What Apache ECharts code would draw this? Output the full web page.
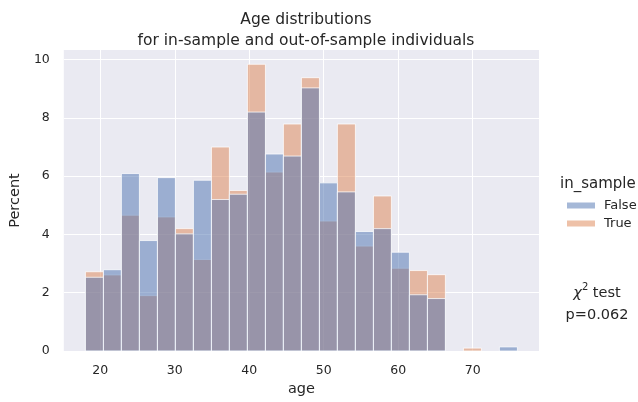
<!DOCTYPE html>
<html>
<head>
<meta charset="utf-8">
<script src="https://cdn.jsdelivr.net/npm/echarts@6/dist/echarts.min.js"></script>
<style>html,body{margin:0;padding:0;background:#fff}#c{width:638px;height:402px}</style>
</head>
<body>
<div id="c"></div>
<script>
// Histogram bin edges (age)
const binEdges = [18, 20.42, 22.83, 25.25, 27.67, 30.08, 32.5, 34.92, 37.33, 39.75, 42.17, 44.58, 47, 49.42, 51.83, 54.25, 56.67, 59.08, 61.5, 63.92, 66.33, 68.75, 71.17, 73.58, 76];
// Percent per bin, in_sample = False
const falseVals = [2.53, 2.79, 6.09, 3.79, 5.95, 4.02, 5.86, 5.20, 5.38, 8.20, 6.76, 6.69, 9.03, 5.77, 5.46, 4.10, 4.20, 3.39, 1.93, 1.80, 0, 0, 0, 0.14];
// Percent per bin, in_sample = True
const trueVals = [2.72, 2.61, 4.66, 1.90, 4.60, 4.20, 3.14, 7.00, 5.51, 9.84, 6.14, 7.79, 9.38, 4.46, 7.79, 3.60, 5.32, 2.84, 2.76, 2.62, 0, 0.10, 0, 0];
const xTicks = [20, 30, 40, 50, 60, 70];
const yTicks = [0, 2, 4, 6, 8, 10];
const seriesNames = ['False', 'True'];

function toData(vals) {
  return vals.map((v, i) => [binEdges[i], binEdges[i + 1], v]);
}
function renderBar(color) {
  return function (params, api) {
    const h = api.value(2);
    if (!(h > 0)) return null;
    const p0 = api.coord([api.value(0), h]);
    const p1 = api.coord([api.value(1), 0]);
    return {
      type: 'rect',
      shape: { x: p0[0], y: p0[1], width: p1[0] - p0[0], height: p1[1] - p0[1] },
      style: { fill: color, stroke: 'rgba(255,255,255,0.75)', lineWidth: 1 }
    };
  };
}
const blue = 'rgba(76,114,176,0.5)';
const orange = 'rgba(221,132,82,0.5)';
const txt = '#262626';
const font = 'DejaVu Sans';

const chart = echarts.init(document.getElementById('c'), null, { renderer: 'canvas' });
chart.setOption({
  backgroundColor: '#ffffff',
  animation: false,
  textStyle: { fontFamily: font },
  title: {
    text: 'Age distributions\nfor in-sample and out-of-sample individuals',
    left: 301, top: 4, textAlign: 'center',
    textStyle: { fontFamily: font, fontSize: 15.5, fontWeight: 'normal', color: txt, lineHeight: 21 }
  },
  grid: { left: 63, right: 99, top: 50, bottom: 51, show: true, backgroundColor: '#eaeaf2', borderWidth: 0 },
  xAxis: {
    type: 'value', min: 15.1, max: 78.9,
    name: 'age', nameLocation: 'middle', nameGap: 31,
    nameTextStyle: { fontFamily: font, fontSize: 14.5, color: txt },
    axisLine: { show: false }, axisTick: { show: false, customValues: xTicks },
    axisLabel: { customValues: xTicks, fontFamily: font, fontSize: 12.5, color: txt, margin: 13 },
    splitLine: { show: true, lineStyle: { color: '#ffffff', width: 1 } }
  },
  yAxis: {
    type: 'value', min: 0, max: 10.33,
    name: 'Percent', nameLocation: 'middle', nameGap: 39, nameRotate: 90,
    nameTextStyle: { fontFamily: font, fontSize: 14.5, color: txt },
    axisLine: { show: false }, axisTick: { show: false, customValues: yTicks },
    axisLabel: { customValues: yTicks, fontFamily: font, fontSize: 12.5, color: txt, margin: 14 },
    splitLine: { show: true, lineStyle: { color: '#ffffff', width: 1 } }
  },
  legend: {
    data: seriesNames,
    orient: 'vertical', left: 562, top: 194,
    icon: 'rect', itemWidth: 28, itemHeight: 6, itemGap: 5,
    textStyle: { fontFamily: font, fontSize: 13, color: txt, padding: [0, 0, 0, 4] }
  },
  graphic: [
    { type: 'text', left: 560, top: 177, style: { text: 'in_sample', font: '15px "DejaVu Sans"', fill: txt } },
    { type: 'text', x: 597, y: 282, style: {
        text: '{m|χ}{s|2}{t| test}\n{t|p=0.062}', textAlign: 'center',
        rich: {
          m: { fontFamily: font, fontSize: 14.5, fontStyle: 'italic', fill: txt, lineHeight: 22 },
          s: { fontFamily: font, fontSize: 10, fill: txt, verticalAlign: 'top', lineHeight: 22 },
          t: { fontFamily: font, fontSize: 14.5, fill: txt, lineHeight: 22 }
        } } }
  ],
  series: [
    { name: 'True', type: 'custom', renderItem: renderBar(orange), itemStyle: { color: orange },
      encode: { x: [0, 1], y: 2 }, data: toData(trueVals) },
    { name: 'False', type: 'custom', renderItem: renderBar(blue), itemStyle: { color: blue },
      encode: { x: [0, 1], y: 2 }, data: toData(falseVals) }
  ]
});
</script>
</body>
</html>
